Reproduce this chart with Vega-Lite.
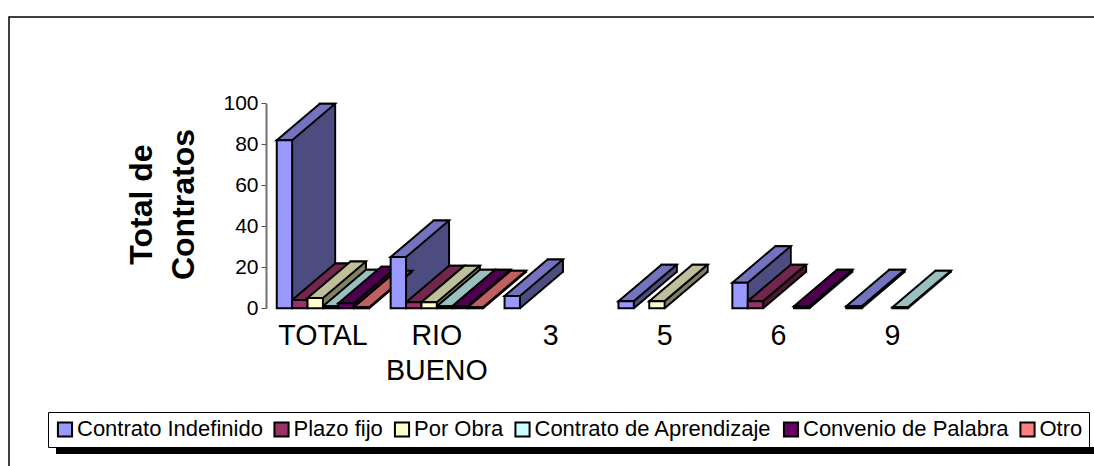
{
"$schema":"https://vega.github.io/schema/vega-lite/v6.json",
"width":1090,"height":500,
"autosize":"none",
"padding":{"left":9,"top":17,"right":0,"bottom":0},
"background":"white",
"view":{"stroke":"black","strokeWidth":1.5,"fill":"white"},
"config":{"font":"Liberation Sans"},
"params":[{"name":"S","value":["Contrato Indefinido","Plazo fijo","Por Obra","Contrato de Aprendizaje","Convenio de Palabra","Otro"]}],
"data":{"values":[
{"grupo":"TOTAL","serie":"Contrato Indefinido","valor":82},
{"grupo":"TOTAL","serie":"Plazo fijo","valor":4},
{"grupo":"TOTAL","serie":"Por Obra","valor":5},
{"grupo":"TOTAL","serie":"Contrato de Aprendizaje","valor":1},
{"grupo":"TOTAL","serie":"Convenio de Palabra","valor":2.5},
{"grupo":"TOTAL","serie":"Otro","valor":0.5},
{"grupo":"RIO BUENO","serie":"Contrato Indefinido","valor":25},
{"grupo":"RIO BUENO","serie":"Plazo fijo","valor":3},
{"grupo":"RIO BUENO","serie":"Por Obra","valor":3},
{"grupo":"RIO BUENO","serie":"Contrato de Aprendizaje","valor":1},
{"grupo":"RIO BUENO","serie":"Convenio de Palabra","valor":1},
{"grupo":"RIO BUENO","serie":"Otro","valor":0.5},
{"grupo":"3","serie":"Contrato Indefinido","valor":6},
{"grupo":"5","serie":"Contrato Indefinido","valor":3.5},
{"grupo":"5","serie":"Por Obra","valor":3.5},
{"grupo":"6","serie":"Contrato Indefinido","valor":12.5},
{"grupo":"6","serie":"Plazo fijo","valor":3.5},
{"grupo":"6","serie":"Convenio de Palabra","valor":1},
{"grupo":"9","serie":"Contrato Indefinido","valor":1},
{"grupo":"9","serie":"Contrato de Aprendizaje","valor":0.5}
]},
"layer":[
{"mark":{"type":"rule","color":"black","strokeWidth":6.7},"encoding":{"x":{"value":47},"x2":{"value":1085},"y":{"value":433.4}}},
{"encoding":{
"x":{"field":"grupo","type":"nominal","sort":null,"title":null,
 "scale":{"domain":["TOTAL","RIO BUENO","3","5","6","9"],"range":[257,940.4],"paddingInner":0.192,"paddingOuter":0.096},
 "axis":{"orient":"bottom","offset":-209,"domain":false,"ticks":false,"labelAngle":0,"labelFontSize":28.6,"labelColor":"black","labelPadding":13.5,"labelLineHeight":35,"labelExpr":"split(datum.label,' ')"}},
"y":{"field":"valor","type":"quantitative","stack":null,
 "scale":{"domain":[0,100],"range":[291.3,86.3],"nice":false},
 "axis":{"orient":"left","offset":-257,"grid":false,"values":[0,20,40,60,80,100],"domainColor":"#707070","tickColor":"#505050","domainWidth":2,"tickWidth":1,"tickSize":5,"labelFontSize":21,"labelColor":"black","labelPadding":3,
  "title":["Total de","Contratos"],"titleFontSize":32,"titleFontWeight":"bold","titleColor":"black","titleLineHeight":42,"titleAnchor":"middle","titlePadding":22,"titleY":187}},
"y2":{"datum":0},
"color":{"field":"serie","type":"nominal","legend":null,"scale":{"domain":{"param":"S"},"range":["#4d4d80","#4d1a33","#808066","#668080","#330033","#804040"]}}
},
"layer":[
{"mark":{"type":"bar","width":15.4,"stroke":"black","strokeWidth":2,"xOffset":{"expr":"indexof(S,datum.serie)*15.4-38.5+43"},"yOffset":-36.5,"y2Offset":-36.5}},
{"mark":{"type":"bar","width":15.4,"xOffset":{"expr":"indexof(S,datum.serie)*15.4-38.5+42"},"yOffset":-35.7,"y2Offset":-35.7}},
{"mark":{"type":"bar","width":15.4,"xOffset":{"expr":"indexof(S,datum.serie)*15.4-38.5+41"},"yOffset":-34.85,"y2Offset":-34.85}},
{"mark":{"type":"bar","width":15.4,"xOffset":{"expr":"indexof(S,datum.serie)*15.4-38.5+40"},"yOffset":-34,"y2Offset":-34}},
{"mark":{"type":"bar","width":15.4,"xOffset":{"expr":"indexof(S,datum.serie)*15.4-38.5+39"},"yOffset":-33.15,"y2Offset":-33.15}},
{"mark":{"type":"bar","width":15.4,"xOffset":{"expr":"indexof(S,datum.serie)*15.4-38.5+38"},"yOffset":-32.3,"y2Offset":-32.3}},
{"mark":{"type":"bar","width":15.4,"xOffset":{"expr":"indexof(S,datum.serie)*15.4-38.5+37"},"yOffset":-31.45,"y2Offset":-31.45}},
{"mark":{"type":"bar","width":15.4,"xOffset":{"expr":"indexof(S,datum.serie)*15.4-38.5+36"},"yOffset":-30.6,"y2Offset":-30.6}},
{"mark":{"type":"bar","width":15.4,"xOffset":{"expr":"indexof(S,datum.serie)*15.4-38.5+35"},"yOffset":-29.75,"y2Offset":-29.75}},
{"mark":{"type":"bar","width":15.4,"xOffset":{"expr":"indexof(S,datum.serie)*15.4-38.5+34"},"yOffset":-28.9,"y2Offset":-28.9}},
{"mark":{"type":"bar","width":15.4,"xOffset":{"expr":"indexof(S,datum.serie)*15.4-38.5+33"},"yOffset":-28.05,"y2Offset":-28.05}},
{"mark":{"type":"bar","width":15.4,"xOffset":{"expr":"indexof(S,datum.serie)*15.4-38.5+32"},"yOffset":-27.2,"y2Offset":-27.2}},
{"mark":{"type":"bar","width":15.4,"xOffset":{"expr":"indexof(S,datum.serie)*15.4-38.5+31"},"yOffset":-26.35,"y2Offset":-26.35}},
{"mark":{"type":"bar","width":15.4,"xOffset":{"expr":"indexof(S,datum.serie)*15.4-38.5+30"},"yOffset":-25.5,"y2Offset":-25.5}},
{"mark":{"type":"bar","width":15.4,"xOffset":{"expr":"indexof(S,datum.serie)*15.4-38.5+29"},"yOffset":-24.65,"y2Offset":-24.65}},
{"mark":{"type":"bar","width":15.4,"xOffset":{"expr":"indexof(S,datum.serie)*15.4-38.5+28"},"yOffset":-23.8,"y2Offset":-23.8}},
{"mark":{"type":"bar","width":15.4,"xOffset":{"expr":"indexof(S,datum.serie)*15.4-38.5+27"},"yOffset":-22.95,"y2Offset":-22.95}},
{"mark":{"type":"bar","width":15.4,"xOffset":{"expr":"indexof(S,datum.serie)*15.4-38.5+26"},"yOffset":-22.1,"y2Offset":-22.1}},
{"mark":{"type":"bar","width":15.4,"xOffset":{"expr":"indexof(S,datum.serie)*15.4-38.5+25"},"yOffset":-21.25,"y2Offset":-21.25}},
{"mark":{"type":"bar","width":15.4,"xOffset":{"expr":"indexof(S,datum.serie)*15.4-38.5+24"},"yOffset":-20.4,"y2Offset":-20.4}},
{"mark":{"type":"bar","width":15.4,"xOffset":{"expr":"indexof(S,datum.serie)*15.4-38.5+23"},"yOffset":-19.55,"y2Offset":-19.55}},
{"mark":{"type":"bar","width":15.4,"xOffset":{"expr":"indexof(S,datum.serie)*15.4-38.5+22"},"yOffset":-18.7,"y2Offset":-18.7}},
{"mark":{"type":"bar","width":15.4,"xOffset":{"expr":"indexof(S,datum.serie)*15.4-38.5+21"},"yOffset":-17.85,"y2Offset":-17.85}},
{"mark":{"type":"bar","width":15.4,"xOffset":{"expr":"indexof(S,datum.serie)*15.4-38.5+20"},"yOffset":-17,"y2Offset":-17}},
{"mark":{"type":"bar","width":15.4,"xOffset":{"expr":"indexof(S,datum.serie)*15.4-38.5+19"},"yOffset":-16.15,"y2Offset":-16.15}},
{"mark":{"type":"bar","width":15.4,"xOffset":{"expr":"indexof(S,datum.serie)*15.4-38.5+18"},"yOffset":-15.3,"y2Offset":-15.3}},
{"mark":{"type":"bar","width":15.4,"xOffset":{"expr":"indexof(S,datum.serie)*15.4-38.5+17"},"yOffset":-14.45,"y2Offset":-14.45}},
{"mark":{"type":"bar","width":15.4,"xOffset":{"expr":"indexof(S,datum.serie)*15.4-38.5+16"},"yOffset":-13.6,"y2Offset":-13.6}},
{"mark":{"type":"bar","width":15.4,"xOffset":{"expr":"indexof(S,datum.serie)*15.4-38.5+15"},"yOffset":-12.75,"y2Offset":-12.75}},
{"mark":{"type":"bar","width":15.4,"xOffset":{"expr":"indexof(S,datum.serie)*15.4-38.5+14"},"yOffset":-11.9,"y2Offset":-11.9}},
{"mark":{"type":"bar","width":15.4,"xOffset":{"expr":"indexof(S,datum.serie)*15.4-38.5+13"},"yOffset":-11.05,"y2Offset":-11.05}},
{"mark":{"type":"bar","width":15.4,"xOffset":{"expr":"indexof(S,datum.serie)*15.4-38.5+12"},"yOffset":-10.2,"y2Offset":-10.2}},
{"mark":{"type":"bar","width":15.4,"xOffset":{"expr":"indexof(S,datum.serie)*15.4-38.5+11"},"yOffset":-9.35,"y2Offset":-9.35}},
{"mark":{"type":"bar","width":15.4,"xOffset":{"expr":"indexof(S,datum.serie)*15.4-38.5+10"},"yOffset":-8.5,"y2Offset":-8.5}},
{"mark":{"type":"bar","width":15.4,"xOffset":{"expr":"indexof(S,datum.serie)*15.4-38.5+9"},"yOffset":-7.65,"y2Offset":-7.65}},
{"mark":{"type":"bar","width":15.4,"xOffset":{"expr":"indexof(S,datum.serie)*15.4-38.5+8"},"yOffset":-6.8,"y2Offset":-6.8}},
{"mark":{"type":"bar","width":15.4,"xOffset":{"expr":"indexof(S,datum.serie)*15.4-38.5+7"},"yOffset":-5.95,"y2Offset":-5.95}},
{"mark":{"type":"bar","width":15.4,"xOffset":{"expr":"indexof(S,datum.serie)*15.4-38.5+6"},"yOffset":-5.1,"y2Offset":-5.1}},
{"mark":{"type":"bar","width":15.4,"xOffset":{"expr":"indexof(S,datum.serie)*15.4-38.5+5"},"yOffset":-4.25,"y2Offset":-4.25}},
{"mark":{"type":"bar","width":15.4,"xOffset":{"expr":"indexof(S,datum.serie)*15.4-38.5+4"},"yOffset":-3.4,"y2Offset":-3.4}},
{"mark":{"type":"bar","width":15.4,"xOffset":{"expr":"indexof(S,datum.serie)*15.4-38.5+3"},"yOffset":-2.55,"y2Offset":-2.55}},
{"mark":{"type":"bar","width":15.4,"xOffset":{"expr":"indexof(S,datum.serie)*15.4-38.5+2"},"yOffset":-1.7,"y2Offset":-1.7}},
{"mark":{"type":"bar","width":15.4,"xOffset":{"expr":"indexof(S,datum.serie)*15.4-38.5+1"},"yOffset":-0.85,"y2Offset":-0.85}},
{"mark":{"type":"point","filled":false,"opacity":1,"size":4,"shape":"M7.7 0L50.7 -36.5","strokeWidth":2,"xOffset":{"expr":"indexof(S,datum.serie)*15.4-38.5"}},"encoding":{"y":{"datum":0},"color":{"value":"black"}}},
{"mark":{"type":"point","filled":true,"opacity":1,"size":4,"shape":"M-7.7 0H7.7L50.7 -36.5H35.3Z","stroke":"black","strokeWidth":2,"xOffset":{"expr":"indexof(S,datum.serie)*15.4-38.5"}},
 "encoding":{"color":{"field":"serie","type":"nominal","legend":null,"scale":{"domain":{"param":"S"},"range":["#7373bf","#73264d","#bfbf99","#99bfbf","#4d004d","#bf6060"]}}}},
{"mark":{"type":"bar","width":15.4,"stroke":"black","strokeWidth":2,"xOffset":{"expr":"indexof(S,datum.serie)*15.4-38.5"}},
 "encoding":{"color":{"field":"serie","type":"nominal","scale":{"domain":{"param":"S"},"range":["#9999ff","#993366","#ffffcc","#ccffff","#660066","#ff8080"]},
  "legend":{"title":null,"orient":"none","legendX":39,"legendY":395,"direction":"horizontal","columns":6,"columnPadding":6.5,"padding":6,"strokeColor":"black","fillColor":"white","symbolType":"square","symbolSize":200,"symbolStrokeColor":"black","symbolStrokeWidth":2,"symbolOpacity":1,"labelFontSize":22,"labelColor":"black","labelOffset":1,"labelLimit":400}}}}
],
"resolve":{"scale":{"color":"independent"},"legend":{"color":"independent"}}
}
]
}
